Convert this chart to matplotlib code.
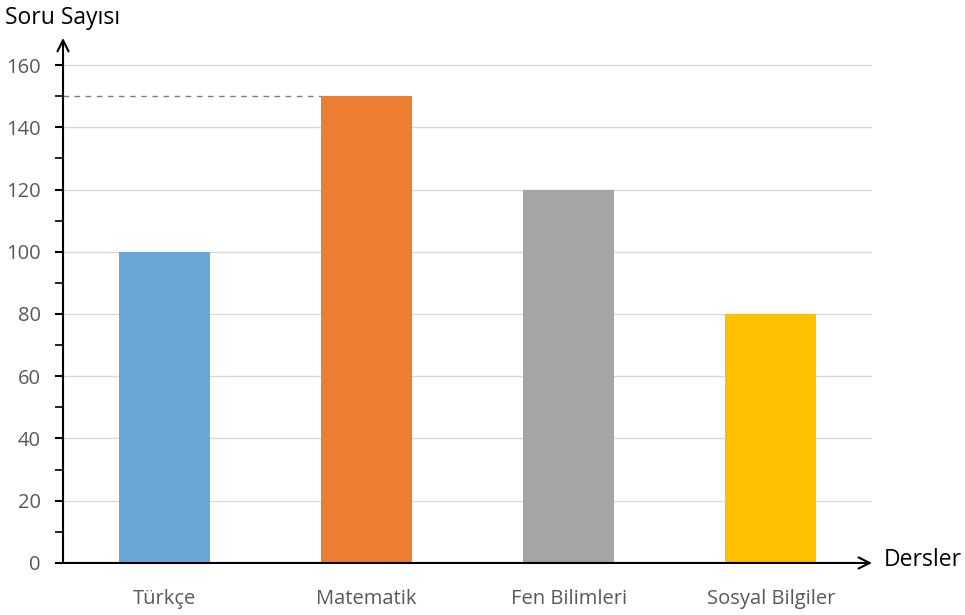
import numpy as np
import matplotlib.pyplot as plt
from matplotlib.ticker import MultipleLocator

### Data
dersler = ["Türkçe", "Matematik", "Fen Bilimleri", "Sosyal Bilgiler"]
soru_sayisi = [100, 150, 120, 80]
renkler = ["#69A8D6", "#ED7D31", "#A5A5A5", "#FFC000"]

plt.rcParams["font.family"] = ["Open Sans", "DejaVu Sans"]

fig = plt.figure(figsize=(9.65, 6.15), dpi=100)
ax = fig.add_axes([0.0653, 0.0846, 0.8383, 0.8537])

x = np.arange(len(dersler))
bars = ax.bar(x, soru_sayisi, width=0.45, color=renkler, zorder=3)

ax.set_xlim(-0.5, 3.5)
ax.set_ylim(0, 168.7)

# grid lines only up to 160
for v in range(20, 161, 20):
    ax.axhline(v, color="#D9D9D9", lw=1, zorder=1)

# dashed line for the highest value
top = bars[1]
ax.plot([-0.5, top.get_x()], [soru_sayisi[1], soru_sayisi[1]],
        ls=(0, (4, 4)), color="#7F7F7F", lw=1, zorder=2)

for s in ax.spines.values():
    s.set_visible(False)

# axes with arrows
ax.annotate("", xy=(-0.5, 168.7), xytext=(-0.5, 0),
            arrowprops=dict(arrowstyle="->", color="black", lw=1.5,
                            mutation_scale=20, shrinkA=0, shrinkB=0),
            annotation_clip=False, zorder=5)
ax.annotate("", xy=(3.5, 0), xytext=(-0.5, 0),
            arrowprops=dict(arrowstyle="->", color="black", lw=1.5,
                            mutation_scale=20, shrinkA=0, shrinkB=0),
            annotation_clip=False, zorder=5)

ax.set_yticks(range(0, 161, 20))
ax.yaxis.set_minor_locator(MultipleLocator(10))
ax.tick_params(axis="y", which="major", length=6, width=1.5, color="black",
               labelsize=14.5, labelcolor="#595959", pad=10)
ax.tick_params(axis="y", which="minor", length=6, width=1.2, color="black")

ax.set_xticks(x)
ax.set_xticklabels(dersler)
ax.tick_params(axis="x", length=0, labelsize=14.5, labelcolor="#595959", pad=19)

fig.text(5 / 965, 1 - 18 / 615, "Soru Sayısı", fontsize=16.5, va="center", ha="left")
fig.text(884 / 965, 1 - 560 / 615, "Dersler", fontsize=16.5, va="center", ha="left")

fig.savefig("out.png", dpi=100)
